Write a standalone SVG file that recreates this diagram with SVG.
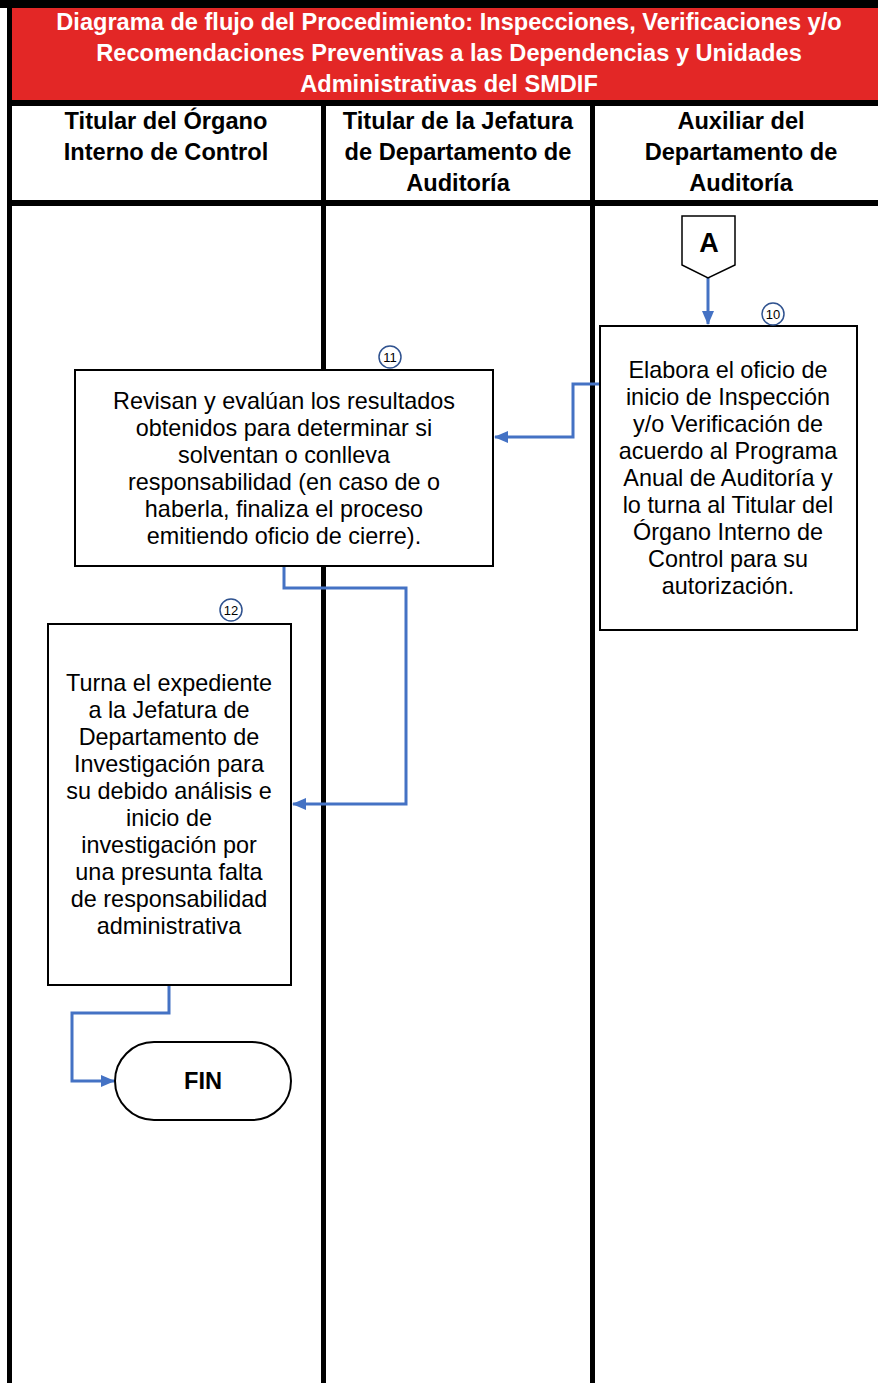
<svg xmlns="http://www.w3.org/2000/svg" width="878" height="1383" viewBox="0 0 878 1383">
<style>
.title{font-family:Arial,"Liberation Sans",sans-serif;font-weight:bold;font-size:23.6px;fill:#fff;text-anchor:middle}
.hdr{font-family:Arial,"Liberation Sans",sans-serif;font-weight:bold;font-size:23.6px;fill:#000;text-anchor:middle}
.txt{font-family:Arial,"Liberation Sans",sans-serif;font-size:23.4px;fill:#000;text-anchor:middle}
.num{font-family:Arial,"Liberation Sans",sans-serif;font-size:13px;fill:#000;text-anchor:middle}
.box{fill:#fff;stroke:#000;stroke-width:2}
.lane{stroke:#000;stroke-width:5}
.conn{fill:none;stroke:#4472C4;stroke-width:3}
.badge{fill:#fff;stroke:#2F528F;stroke-width:1.5}
</style>
<defs>
<marker id="arr" markerWidth="14" markerHeight="12" refX="13" refY="6" orient="auto" markerUnits="userSpaceOnUse">
<path d="M0,0 L14,6 L0,12 z" fill="#4472C4"/>
</marker>
</defs>
<rect x="0" y="0" width="878" height="1383" fill="#fff"/>
<g id="header">
<rect x="0" y="0" width="878" height="8" fill="#000"/>
<rect x="7" y="8" width="871" height="92" fill="#E32726"/>
<rect x="7" y="100" width="871" height="6" fill="#000"/>
<rect x="7" y="200" width="871" height="6" fill="#000"/>
<text class="title" x="449" y="30">Diagrama de flujo del Procedimiento:  Inspecciones, Verificaciones y/o</text>
<text class="title" x="449" y="61">Recomendaciones Preventivas a las Dependencias y Unidades</text>
<text class="title" x="449" y="92">Administrativas del SMDIF</text>
<text class="hdr" x="166" y="129">Titular del Órgano</text>
<text class="hdr" x="166" y="160">Interno de Control</text>
<text class="hdr" x="458" y="129">Titular de la Jefatura</text>
<text class="hdr" x="458" y="160">de Departamento de</text>
<text class="hdr" x="458" y="191">Auditoría</text>
<text class="hdr" x="741" y="129">Auxiliar del</text>
<text class="hdr" x="741" y="160">Departamento de</text>
<text class="hdr" x="741" y="191">Auditoría</text>
</g>
<g id="lanes">
<line class="lane" x1="9.5" y1="0" x2="9.5" y2="1383"/>
<line class="lane" x1="323.5" y1="100" x2="323.5" y2="1383"/>
<line class="lane" x1="592.5" y1="100" x2="592.5" y2="1383"/>
</g>
<g id="connectors">
<path class="conn" d="M708,278 L708,324" marker-end="url(#arr)"/>
<path class="conn" d="M600,384 L573,384 L573,437 L495,437" marker-end="url(#arr)"/>
<path class="conn" d="M284,566 L284,588 L406,588 L406,804 L293,804" marker-end="url(#arr)"/>
<path class="conn" d="M169,985 L169,1013 L72,1013 L72,1081 L114,1081" marker-end="url(#arr)"/>
</g>
<g id="nodeA">
<path d="M682,216 L735,216 L735,265 L708,278 L682,265 z" fill="#fff" stroke="#000" stroke-width="1.5"/>
<text class="hdr" x="709" y="252" style="font-size:27px">A</text>
</g>
<g id="node10">
<rect class="box" x="600" y="326" width="257" height="304"/>
<circle class="badge" cx="773" cy="314" r="11"/>
<text class="num" x="773" y="318.5">10</text>
<text class="txt" x="728" y="378">Elabora el oficio de</text>
<text class="txt" x="728" y="405">inicio de Inspección</text>
<text class="txt" x="728" y="432">y/o Verificación de</text>
<text class="txt" x="728" y="459">acuerdo al Programa</text>
<text class="txt" x="728" y="486">Anual de Auditoría y</text>
<text class="txt" x="728" y="513">lo turna al Titular del</text>
<text class="txt" x="728" y="540">Órgano Interno de</text>
<text class="txt" x="728" y="567">Control para su</text>
<text class="txt" x="728" y="594">autorización.</text>
</g>
<g id="node11">
<rect class="box" x="75" y="370" width="418" height="196"/>
<circle class="badge" cx="390" cy="357" r="11"/>
<text class="num" x="390" y="361.5">11</text>
<text class="txt" x="284" y="409">Revisan y evalúan los resultados</text>
<text class="txt" x="284" y="436">obtenidos para determinar si</text>
<text class="txt" x="284" y="463">solventan o conlleva</text>
<text class="txt" x="284" y="490">responsabilidad (en caso de o</text>
<text class="txt" x="284" y="517">haberla, finaliza el proceso</text>
<text class="txt" x="284" y="544">emitiendo oficio de cierre).</text>
</g>
<g id="node12">
<rect class="box" x="48" y="624" width="243" height="361"/>
<circle class="badge" cx="231" cy="610" r="11"/>
<text class="num" x="231" y="614.5">12</text>
<text class="txt" x="169" y="691">Turna el expediente</text>
<text class="txt" x="169" y="718">a la Jefatura de</text>
<text class="txt" x="169" y="745">Departamento de</text>
<text class="txt" x="169" y="772">Investigación para</text>
<text class="txt" x="169" y="799">su debido análisis e</text>
<text class="txt" x="169" y="826">inicio de</text>
<text class="txt" x="169" y="853">investigación por</text>
<text class="txt" x="169" y="880">una presunta falta</text>
<text class="txt" x="169" y="907">de responsabilidad</text>
<text class="txt" x="169" y="934">administrativa</text>
</g>
<g id="fin">
<rect x="115" y="1042" width="176" height="78" rx="39" ry="39" fill="#fff" stroke="#000" stroke-width="2"/>
<text class="hdr" x="203" y="1089">FIN</text>
</g>
</svg>
